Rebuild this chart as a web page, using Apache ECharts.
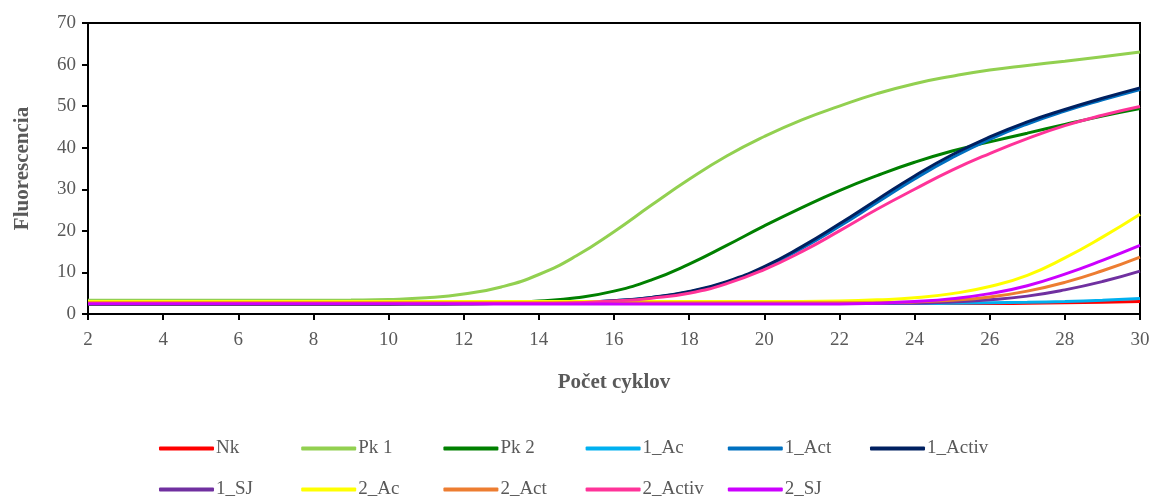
<!DOCTYPE html>
<html>
<head>
    <meta charset="UTF-8">
    <title>Fluorescencia</title>
    <script src="https://cdn.jsdelivr.net/npm/echarts@6/dist/echarts.min.js"></script>
</head>
<body style="margin:0">
    <div id="main" style="width: 1154px;height:502px;"></div>
    <script type="text/javascript">
        // cykly 2..30
        var cycles = [2,3,4,5,6,7,8,9,10,11,12,13,14,15,16,17,18,19,20,21,22,23,24,25,26,27,28,29,30];

        var nk      = [2.5,2.5,2.5,2.5,2.5,2.5,2.5,2.5,2.5,2.5,2.5,2.5,2.5,2.5,2.5,2.5,2.5,2.5,2.5,2.5,2.5,2.5,2.5,2.5,2.5,2.6,2.7,2.8,3.0];
        var pk1     = [3.3,3.3,3.3,3.3,3.3,3.3,3.3,3.35,3.5,3.9,4.8,6.5,9.5,14,19.8,26.2,32.4,38,42.7,46.7,50,53,55.4,57.2,58.7,59.8,60.8,61.9,63];
        var pk2     = [2.3,2.3,2.3,2.3,2.3,2.3,2.3,2.3,2.3,2.35,2.4,2.6,3.1,3.9,5.5,8.2,12,16.5,21.2,25.6,29.7,33.3,36.5,39.2,41.4,43.5,45.6,47.6,49.4];
        var ac1     = [2.5,2.5,2.5,2.5,2.5,2.5,2.5,2.5,2.5,2.5,2.5,2.5,2.5,2.5,2.5,2.5,2.5,2.5,2.5,2.5,2.5,2.5,2.5,2.6,2.7,2.8,3.0,3.3,3.7];
        var act1    = [2.6,2.6,2.6,2.6,2.6,2.6,2.6,2.6,2.6,2.6,2.6,2.6,2.6,2.8,3.2,4,5.3,7.6,11.1,15.8,21.1,26.8,32.5,37.6,42,45.7,48.8,51.5,54];
        var activ1  = [2.6,2.6,2.6,2.6,2.6,2.6,2.6,2.6,2.6,2.6,2.6,2.6,2.6,2.8,3.2,4,5.4,7.8,11.4,16.2,21.7,27.5,33.2,38.3,42.6,46.2,49.2,51.9,54.4];
        var sj1     = [2.6,2.6,2.6,2.6,2.6,2.6,2.6,2.6,2.6,2.6,2.6,2.6,2.6,2.6,2.6,2.6,2.6,2.6,2.6,2.6,2.6,2.6,2.6,2.9,3.4,4.3,5.8,7.8,10.3];
        var ac2     = [3.0,3.0,3.0,3.0,3.0,3.0,3.0,3.0,3.0,3.0,3.0,3.0,3.0,3.0,3.0,3.0,3.0,3.0,3.0,3.0,3.1,3.4,3.9,4.9,6.6,9.3,13.5,18.5,24];
        var act2    = [2.7,2.7,2.7,2.7,2.7,2.7,2.7,2.7,2.7,2.7,2.7,2.7,2.7,2.7,2.7,2.7,2.7,2.7,2.7,2.7,2.7,2.7,2.9,3.3,4.1,5.5,7.6,10.4,13.7];
        var activ2  = [2.5,2.5,2.5,2.5,2.5,2.5,2.5,2.5,2.5,2.5,2.5,2.5,2.5,2.7,3.1,3.8,5,7.3,10.7,15,20,25.2,30,34.6,38.6,42.2,45.3,47.8,49.9];
        var sj2     = [2.4,2.4,2.4,2.4,2.4,2.4,2.4,2.4,2.4,2.4,2.4,2.4,2.4,2.4,2.4,2.4,2.4,2.4,2.4,2.4,2.4,2.6,3.0,3.7,4.9,6.8,9.6,12.9,16.5];

        var names  = ['Nk','Pk 1','Pk 2','1_Ac','1_Act','1_Activ','1_SJ','2_Ac','2_Act','2_Activ','2_SJ'];
        var values = [nk, pk1, pk2, ac1, act1, activ1, sj1, ac2, act2, activ2, sj2];
        var colors = ['#FF0000','#92D050','#008000','#00B0F0','#0070C0','#002060','#7030A0','#FFFF00','#ED7D31','#FF3399','#CC00FF'];

        var font = 'Liberation Serif';
        var gray = '#595959';

        var series = names.map(function (n, i) {
            return {
                name: n,
                type: 'line',
                smooth: true,
                showSymbol: false,
                color: colors[i],
                lineStyle: {width: 3},
                data: cycles.map(function (c, k) { return [c, values[i][k]]; })
            };
        });

        // one legend per item so the columns are evenly spaced, as in the original
        var legends = names.map(function (n, i) {
            return {
                left: 154 + (i % 6) * 142.2,
                top: i < 6 ? 434 : 475,
                itemWidth: 55,
                itemHeight: 4,
                itemGap: 0,
                icon: 'roundRect',
                data: [n],
                textStyle: {fontFamily: font, fontSize: 19, color: gray, padding: [0,0,0,-3]}
            };
        });

        var myChart = echarts.init(document.getElementById('main'));
        myChart.setOption({
            animation: false,
            color: colors,
            grid: {left: 88, right: 14, top: 23, bottom: 188, show: true, borderColor: '#000', borderWidth: 2},
            xAxis: {
                type: 'value', min: 2, max: 30, interval: 2,
                name: 'Počet cyklov', nameLocation: 'middle', nameGap: 58,
                nameTextStyle: {fontFamily: font, fontSize: 21, fontWeight: 'bold', color: gray},
                axisLine: {lineStyle: {color: '#000', width: 2}},
                axisTick: {lineStyle: {color: '#000', width: 2}, length: 6},
                axisLabel: {fontFamily: font, fontSize: 19, color: gray, margin: 17},
                splitLine: {show: false}
            },
            yAxis: {
                type: 'value', min: 0, max: 70, interval: 10,
                name: 'Fluorescencia', nameLocation: 'middle', nameGap: 55,
                nameTextStyle: {fontFamily: font, fontSize: 21, fontWeight: 'bold', color: gray},
                axisLine: {show: true, lineStyle: {color: '#000', width: 2}},
                axisTick: {show: true, lineStyle: {color: '#000', width: 2}, length: 6},
                axisLabel: {fontFamily: font, fontSize: 19, color: gray, margin: 12},
                splitLine: {show: false}
            },
            legend: legends,
            series: series
        });
    </script>
</body>
</html>
